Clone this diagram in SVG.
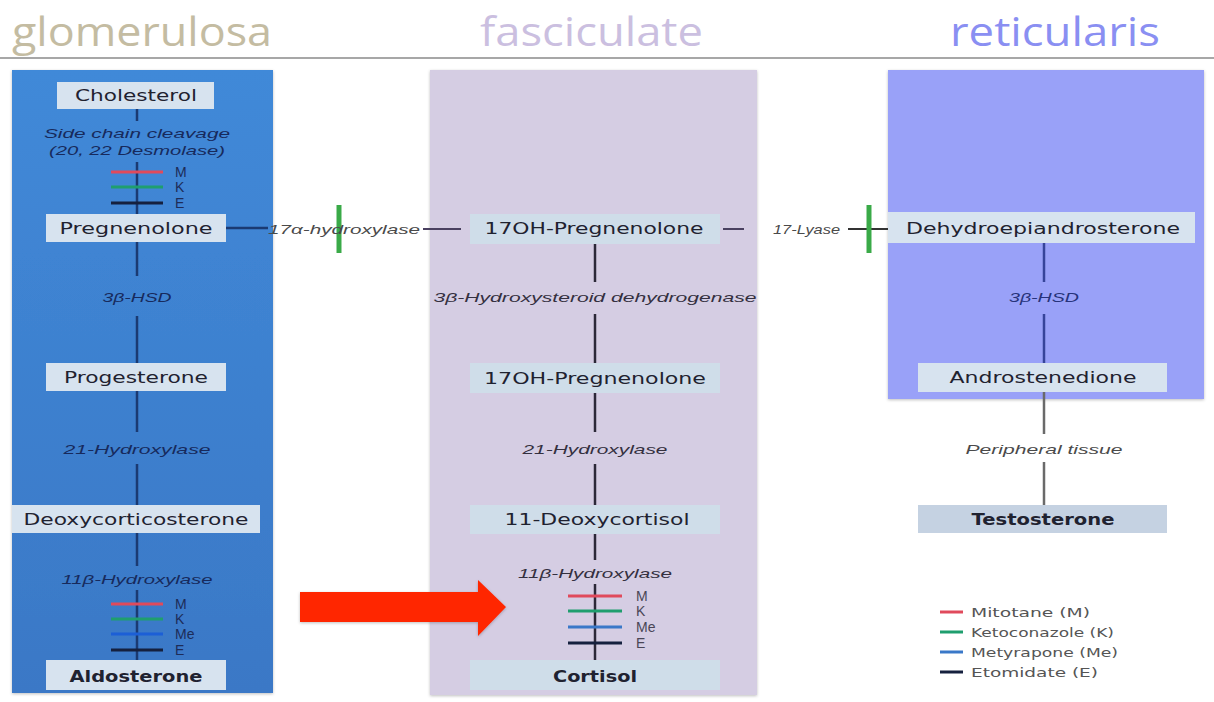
<svg xmlns="http://www.w3.org/2000/svg" width="1214" height="702" viewBox="0 0 1214 702">
  <defs>
    <linearGradient id="zoneG" x1="0" y1="0" x2="0" y2="1">
      <stop offset="0" stop-color="#4189d8"/>
      <stop offset="1" stop-color="#3a78c6"/>
    </linearGradient>
    <filter id="shadow" x="-5%" y="-5%" width="110%" height="110%">
      <feDropShadow dx="0" dy="1" stdDeviation="1.5" flood-color="#000" flood-opacity="0.25"/>
    </filter>
    <style>
      .title { font-family: "Open Sans", "DejaVu Sans", sans-serif; font-size: 40px; }
      .node { font-family: "DejaVu Sans", "Liberation Sans", sans-serif; font-size: 15px; fill: #1f2230; }
      .bold { font-weight: bold; }
      .enz { font-family: "Liberation Sans", Arial, sans-serif; font-size: 13px; font-style: italic; }
      .enzL { fill: #172a5c; }
      .enzC { fill: #34303f; }
      .enzR { fill: #27337a; }
      .enzW { fill: #4a4a4a; }
      .inh { font-family: "Liberation Sans", Arial, sans-serif; font-size: 14px; }
      .leg { font-family: "DejaVu Sans", "Liberation Sans", sans-serif; font-size: 13px; fill: #555; }
      .box { fill: #d7e3ef; }
      .boxC { fill: #cfdde9; }
      .boxT { fill: #c5d2e2; }
      .bar { stroke-width: 3; }
      .m { stroke: #e04a5c; }
      .k { stroke: #1f9e6e; }
      .me { stroke: #3a78c8; }
      .meL { stroke: #1c5fd6; }
      .e { stroke: #15203e; }
      .block { stroke: #3aaa48; stroke-width: 5; }
    </style>
  </defs>

  <rect width="1214" height="702" fill="#ffffff"/>

  <!-- zone headings -->
  <g id="headings">
    <text class="title" x="12" y="46" fill="#c4bca2" textLength="260" lengthAdjust="spacingAndGlyphs">glomerulosa</text>
    <text class="title" x="480" y="46" fill="#cbbfe0" textLength="223" lengthAdjust="spacingAndGlyphs">fasciculate</text>
    <text class="title" x="950" y="46" fill="#8a8ff2" textLength="210" lengthAdjust="spacingAndGlyphs">reticularis</text>
    <line x1="0" y1="58" x2="1214" y2="58" stroke="#8a8a8a" stroke-width="1.5"/>
  </g>

  <!-- zone panels -->
  <g id="zones">
    <rect x="12" y="70" width="261" height="623" fill="url(#zoneG)" filter="url(#shadow)"/>
    <rect x="430" y="70" width="327" height="625" fill="#d5cde3" filter="url(#shadow)"/>
    <rect x="888" y="70" width="316" height="329" fill="#99a1f8" filter="url(#shadow)"/>
  </g>

  <!-- connectors -->
  <g id="connectors" fill="none">
    <!-- glomerulosa pathway -->
    <g stroke="#1b3a72" stroke-width="2.5">
      <line x1="137" y1="109" x2="137" y2="121"/>
      <line x1="137" y1="162" x2="137" y2="214"/>
      <line x1="137" y1="242" x2="137" y2="276"/>
      <line x1="137" y1="316" x2="137" y2="363"/>
      <line x1="137" y1="391" x2="137" y2="432"/>
      <line x1="137" y1="464" x2="137" y2="505"/>
      <line x1="137" y1="533" x2="137" y2="566"/>
      <line x1="137" y1="590" x2="137" y2="660"/>
      <line x1="226" y1="228" x2="268" y2="228"/>
    </g>
    <!-- fasciculata pathway -->
    <g stroke="#2c2838" stroke-width="2.5">
      <line x1="595" y1="244" x2="595" y2="282"/>
      <line x1="595" y1="314" x2="595" y2="363"/>
      <line x1="595" y1="393" x2="595" y2="432"/>
      <line x1="595" y1="464" x2="595" y2="505"/>
      <line x1="595" y1="534" x2="595" y2="560"/>
      <line x1="595" y1="584" x2="595" y2="660"/>
    </g>
    <g stroke="#4a4060" stroke-width="2">
      <line x1="423" y1="229" x2="461" y2="229"/>
      <line x1="723" y1="229" x2="744" y2="229"/>
    </g>
    <line x1="848" y1="229" x2="888" y2="229" stroke="#333" stroke-width="2"/>
    <!-- reticularis pathway -->
    <g stroke="#36449a" stroke-width="2.5">
      <line x1="1044" y1="243" x2="1044" y2="282"/>
      <line x1="1044" y1="314" x2="1044" y2="363"/>
    </g>
    <g stroke="#6a6a6a" stroke-width="2.5">
      <line x1="1044" y1="392" x2="1044" y2="434"/>
      <line x1="1044" y1="462" x2="1044" y2="505"/>
    </g>
    <!-- green blocks across the 17-hydroxylase and 17-lyase steps -->
    <line class="block" x1="339" y1="205" x2="339" y2="253"/>
    <line class="block" x1="869" y1="205" x2="869" y2="253"/>
    <!-- drug bars: side chain cleavage -->
    <line class="bar m" x1="111" y1="172" x2="163" y2="172"/>
    <line class="bar k" x1="111" y1="187" x2="163" y2="187"/>
    <line class="bar e" x1="111" y1="203" x2="163" y2="203"/>
    <!-- drug bars: 11b-hydroxylase (glomerulosa) -->
    <line class="bar m" x1="111" y1="604" x2="163" y2="604"/>
    <line class="bar k" x1="111" y1="619" x2="163" y2="619"/>
    <line class="bar meL" x1="111" y1="634" x2="163" y2="634"/>
    <line class="bar e" x1="111" y1="650" x2="163" y2="650"/>
    <!-- drug bars: 11b-hydroxylase (fasciculata) -->
    <line class="bar m" x1="568" y1="596" x2="622" y2="596"/>
    <line class="bar k" x1="568" y1="611" x2="622" y2="611"/>
    <line class="bar me" x1="568" y1="627" x2="622" y2="627"/>
    <line class="bar e" x1="568" y1="643" x2="622" y2="643" stroke="#333"/>
  </g>

  <!-- enzyme and drug labels -->
  <g id="enzymes">
    <text class="enz enzL" x="137" y="138" text-anchor="middle" textLength="186" lengthAdjust="spacingAndGlyphs">Side chain cleavage</text>
    <text class="enz enzL" x="137" y="155" text-anchor="middle" textLength="176" lengthAdjust="spacingAndGlyphs">(20, 22 Desmolase)</text>
    <text class="enz enzL" x="137" y="302" text-anchor="middle" textLength="69" lengthAdjust="spacingAndGlyphs">3β-HSD</text>
    <text class="enz enzL" x="137" y="454" text-anchor="middle" textLength="147" lengthAdjust="spacingAndGlyphs">21-Hydroxylase</text>
    <text class="enz enzL" x="137" y="584" text-anchor="middle" textLength="151" lengthAdjust="spacingAndGlyphs">11β-Hydroxylase</text>
    <text class="enz enzW" x="268" y="234" textLength="152" lengthAdjust="spacingAndGlyphs">17α-hydroxylase</text>
    <text class="enz enzW" x="773" y="234" textLength="67" lengthAdjust="spacingAndGlyphs">17-Lyase</text>
    <text class="enz enzC" x="595" y="302" text-anchor="middle" textLength="323" lengthAdjust="spacingAndGlyphs">3β-Hydroxysteroid dehydrogenase</text>
    <text class="enz enzC" x="595" y="454" text-anchor="middle" textLength="145" lengthAdjust="spacingAndGlyphs">21-Hydroxylase</text>
    <text class="enz enzC" x="595" y="578" text-anchor="middle" textLength="154" lengthAdjust="spacingAndGlyphs">11β-Hydroxylase</text>
    <text class="enz enzR" x="1044" y="302" text-anchor="middle" textLength="70" lengthAdjust="spacingAndGlyphs">3β-HSD</text>
    <text class="enz enzW" x="1044" y="454" text-anchor="middle" textLength="157" lengthAdjust="spacingAndGlyphs">Peripheral tissue</text>

    <g class="inh" fill="#1d2c58">
      <text x="175" y="177">M</text>
      <text x="175" y="192">K</text>
      <text x="175" y="208">E</text>
      <text x="175" y="609">M</text>
      <text x="175" y="624">K</text>
      <text x="175" y="639">Me</text>
      <text x="175" y="655">E</text>
    </g>
    <g class="inh" fill="#4a4656">
      <text x="636" y="601">M</text>
      <text x="636" y="616">K</text>
      <text x="636" y="632">Me</text>
      <text x="636" y="648">E</text>
    </g>
  </g>

  <!-- metabolite nodes -->
  <g id="cholesterol">
    <rect class="box" x="57" y="82" width="157" height="27"/>
    <text class="node" x="136" y="101" text-anchor="middle" textLength="122" lengthAdjust="spacingAndGlyphs">Cholesterol</text>
  </g>
  <g id="pregnenolone">
    <rect class="box" x="46" y="214" width="180" height="28"/>
    <text class="node" x="136" y="234" text-anchor="middle" textLength="153" lengthAdjust="spacingAndGlyphs">Pregnenolone</text>
  </g>
  <g id="progesterone">
    <rect class="box" x="46" y="363" width="180" height="28"/>
    <text class="node" x="136" y="383" text-anchor="middle" textLength="144" lengthAdjust="spacingAndGlyphs">Progesterone</text>
  </g>
  <g id="deoxycorticosterone">
    <rect class="box" x="12" y="505" width="248" height="28"/>
    <text class="node" x="136" y="525" text-anchor="middle" textLength="225" lengthAdjust="spacingAndGlyphs">Deoxycorticosterone</text>
  </g>
  <g id="aldosterone">
    <rect class="box" x="46" y="660" width="180" height="30"/>
    <text class="node bold" x="136" y="682" text-anchor="middle" textLength="133" lengthAdjust="spacingAndGlyphs">Aldosterone</text>
  </g>

  <g id="hydroxypregnenolone">
    <rect class="boxC" x="470" y="214" width="250" height="30"/>
    <text class="node" x="594" y="234" text-anchor="middle" textLength="219" lengthAdjust="spacingAndGlyphs">17OH-Pregnenolone</text>
  </g>
  <g id="hydroxypregnenolone2">
    <rect class="boxC" x="470" y="363" width="250" height="30"/>
    <text class="node" x="595" y="384" text-anchor="middle" textLength="222" lengthAdjust="spacingAndGlyphs">17OH-Pregnenolone</text>
  </g>
  <g id="deoxycortisol">
    <rect class="boxC" x="470" y="505" width="250" height="29"/>
    <text class="node" x="597" y="525" text-anchor="middle" textLength="185" lengthAdjust="spacingAndGlyphs">11-Deoxycortisol</text>
  </g>
  <g id="cortisol">
    <rect class="boxC" x="470" y="660" width="250" height="30"/>
    <text class="node bold" x="595" y="682" text-anchor="middle" textLength="84" lengthAdjust="spacingAndGlyphs">Cortisol</text>
  </g>

  <g id="dhea">
    <rect class="box" x="888" y="212" width="307" height="31"/>
    <text class="node" x="1043" y="234" text-anchor="middle" textLength="274" lengthAdjust="spacingAndGlyphs">Dehydroepiandrosterone</text>
  </g>
  <g id="androstenedione">
    <rect class="box" x="918" y="363" width="249" height="29"/>
    <text class="node" x="1043" y="383" text-anchor="middle" textLength="187" lengthAdjust="spacingAndGlyphs">Androstenedione</text>
  </g>
  <g id="testosterone">
    <rect class="boxT" x="918" y="505" width="249" height="28"/>
    <text class="node bold" x="1043" y="525" text-anchor="middle" textLength="143" lengthAdjust="spacingAndGlyphs">Testosterone</text>
  </g>

  <!-- highlight arrow -->
  <g id="highlight-arrow">
    <polygon points="300,592 478,592 478,580 506,607 478,636 478,622 300,622" fill="#ff2600" filter="url(#shadow)"/>
  </g>

  <!-- drug legend -->
  <g id="legend">
    <line class="bar m" x1="940" y1="612" x2="963" y2="612"/>
    <line class="bar k" x1="940" y1="632" x2="963" y2="632"/>
    <line class="bar me" x1="940" y1="652" x2="963" y2="652"/>
    <line class="bar e" x1="940" y1="672" x2="963" y2="672" stroke="#222"/>
    <text class="leg" x="971" y="617" textLength="119" lengthAdjust="spacingAndGlyphs">Mitotane (M)</text>
    <text class="leg" x="971" y="637" textLength="143" lengthAdjust="spacingAndGlyphs">Ketoconazole (K)</text>
    <text class="leg" x="971" y="657" textLength="147" lengthAdjust="spacingAndGlyphs">Metyrapone (Me)</text>
    <text class="leg" x="971" y="677" textLength="127" lengthAdjust="spacingAndGlyphs">Etomidate (E)</text>
  </g>
</svg>
